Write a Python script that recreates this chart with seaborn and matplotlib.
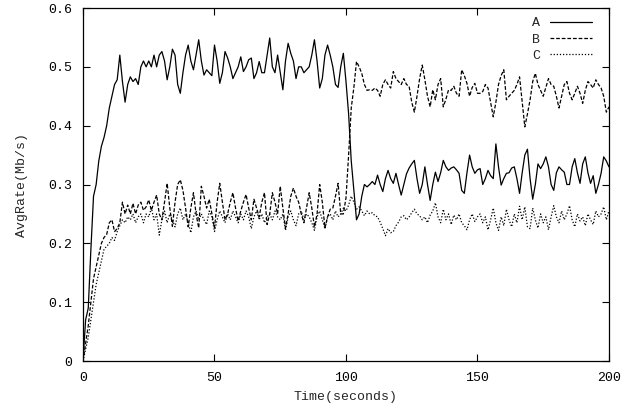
import numpy as np
import pandas as pd
import matplotlib
matplotlib.use("Agg")
import matplotlib.pyplot as plt
import seaborn as sns
from matplotlib.lines import Line2D

time_s = list(range(0, 201))

series_a = [
    0.00, 0.07, 0.09, 0.19, 0.28, 0.30, 0.34, 0.365, 0.38, 0.40,
    0.43, 0.45, 0.47, 0.478, 0.52, 0.475, 0.44, 0.47, 0.483, 0.475,
    0.48, 0.47, 0.50, 0.51, 0.50, 0.51, 0.50, 0.52, 0.50, 0.52,
    0.526, 0.51, 0.478, 0.50, 0.53, 0.52, 0.47, 0.455, 0.49, 0.52,
    0.537, 0.51, 0.495, 0.52, 0.546, 0.51, 0.486, 0.495, 0.49, 0.485,
    0.537, 0.51, 0.472, 0.49, 0.526, 0.515, 0.50, 0.48, 0.49, 0.50,
    0.517, 0.492, 0.50, 0.512, 0.515, 0.48, 0.49, 0.509, 0.49, 0.49,
    0.52, 0.549, 0.50, 0.49, 0.52, 0.49, 0.461, 0.51, 0.54, 0.523,
    0.51, 0.48, 0.50, 0.50, 0.49, 0.495, 0.50, 0.52, 0.546, 0.51,
    0.464, 0.48, 0.52, 0.537, 0.52, 0.50, 0.47, 0.465, 0.50, 0.523,
    0.475, 0.42, 0.34, 0.29, 0.24, 0.25, 0.28, 0.30, 0.296, 0.30,
    0.305, 0.30, 0.316, 0.30, 0.288, 0.31, 0.324, 0.31, 0.302, 0.319,
    0.30, 0.282, 0.30, 0.318, 0.328, 0.335, 0.341, 0.31, 0.285, 0.30,
    0.33, 0.30, 0.273, 0.30, 0.321, 0.305, 0.32, 0.341, 0.33, 0.324,
    0.328, 0.33, 0.325, 0.319, 0.29, 0.285, 0.32, 0.35, 0.33, 0.319,
    0.325, 0.327, 0.30, 0.31, 0.324, 0.315, 0.31, 0.369, 0.33, 0.299,
    0.31, 0.319, 0.32, 0.328, 0.33, 0.31, 0.285, 0.32, 0.35, 0.36,
    0.31, 0.275, 0.30, 0.335, 0.327, 0.335, 0.347, 0.33, 0.30, 0.29,
    0.32, 0.33, 0.325, 0.321, 0.30, 0.30, 0.33, 0.344, 0.32, 0.302,
    0.335, 0.347, 0.32, 0.302, 0.315, 0.285, 0.30, 0.319, 0.347, 0.34,
    0.33,
]

series_b = [
    0.00, 0.03, 0.06, 0.10, 0.14, 0.16, 0.18, 0.20, 0.21, 0.215,
    0.235, 0.24, 0.22, 0.225, 0.235, 0.27, 0.25, 0.265, 0.25, 0.268,
    0.25, 0.265, 0.27, 0.256, 0.262, 0.274, 0.256, 0.27, 0.282, 0.25,
    0.24, 0.27, 0.302, 0.26, 0.229, 0.27, 0.30, 0.308, 0.29, 0.26,
    0.228, 0.26, 0.286, 0.25, 0.226, 0.297, 0.28, 0.26, 0.275, 0.25,
    0.226, 0.27, 0.302, 0.27, 0.24, 0.25, 0.27, 0.286, 0.26, 0.238,
    0.255, 0.27, 0.283, 0.26, 0.24, 0.275, 0.26, 0.245, 0.27, 0.286,
    0.232, 0.25, 0.286, 0.27, 0.25, 0.297, 0.26, 0.226, 0.25, 0.28,
    0.294, 0.28, 0.27, 0.25, 0.235, 0.26, 0.286, 0.26, 0.228, 0.25,
    0.30, 0.27, 0.226, 0.245, 0.258, 0.26, 0.28, 0.302, 0.25, 0.25,
    0.277, 0.35, 0.43, 0.465, 0.509, 0.50, 0.489, 0.47, 0.46, 0.461,
    0.46, 0.464, 0.46, 0.45, 0.47, 0.478, 0.47, 0.464, 0.492, 0.48,
    0.475, 0.47, 0.48, 0.47, 0.467, 0.44, 0.423, 0.45, 0.48, 0.503,
    0.478, 0.45, 0.432, 0.461, 0.444, 0.47, 0.48, 0.432, 0.445, 0.461,
    0.46, 0.467, 0.455, 0.45, 0.495, 0.485, 0.472, 0.45, 0.465, 0.472,
    0.455, 0.455, 0.458, 0.47, 0.464, 0.44, 0.415, 0.44, 0.47, 0.485,
    0.495, 0.444, 0.45, 0.455, 0.46, 0.47, 0.483, 0.44, 0.398, 0.42,
    0.444, 0.475, 0.489, 0.47, 0.46, 0.45, 0.465, 0.48, 0.47, 0.467,
    0.45, 0.43, 0.45, 0.47, 0.475, 0.455, 0.444, 0.455, 0.467, 0.455,
    0.438, 0.46, 0.475, 0.47, 0.464, 0.478, 0.47, 0.464, 0.45, 0.423,
    0.432,
]

series_c = [
    0.00, 0.02, 0.04, 0.07, 0.10, 0.13, 0.15, 0.17, 0.19, 0.195,
    0.20, 0.21, 0.205, 0.22, 0.23, 0.24, 0.235, 0.245, 0.24, 0.25,
    0.235, 0.245, 0.25, 0.235, 0.25, 0.245, 0.26, 0.24, 0.25, 0.214,
    0.24, 0.255, 0.235, 0.25, 0.24, 0.228, 0.25, 0.26, 0.24, 0.25,
    0.235, 0.218, 0.245, 0.255, 0.24, 0.25, 0.24, 0.232, 0.255, 0.245,
    0.22, 0.24, 0.255, 0.245, 0.235, 0.25, 0.24, 0.255, 0.245, 0.235,
    0.25, 0.24, 0.255, 0.245, 0.225, 0.245, 0.255, 0.24, 0.25, 0.235,
    0.245, 0.25, 0.24, 0.255, 0.245, 0.24, 0.25, 0.222, 0.245, 0.255,
    0.24, 0.23, 0.25, 0.255, 0.24, 0.25, 0.245, 0.235, 0.222, 0.245,
    0.255, 0.24, 0.225, 0.245, 0.25, 0.24, 0.255, 0.245, 0.25, 0.26,
    0.255, 0.265, 0.28, 0.27, 0.258, 0.262, 0.255, 0.247, 0.255, 0.25,
    0.252, 0.247, 0.245, 0.236, 0.225, 0.213, 0.225, 0.218, 0.22, 0.23,
    0.236, 0.245, 0.247, 0.24, 0.245, 0.252, 0.258, 0.25, 0.247, 0.24,
    0.245, 0.235, 0.248, 0.255, 0.269, 0.245, 0.235, 0.258, 0.24, 0.25,
    0.232, 0.248, 0.24, 0.25, 0.235, 0.23, 0.223, 0.24, 0.25, 0.237,
    0.245, 0.25, 0.235, 0.245, 0.223, 0.24, 0.26, 0.235, 0.222, 0.245,
    0.23, 0.258, 0.24, 0.228, 0.25, 0.235, 0.263, 0.24, 0.262, 0.228,
    0.225, 0.26, 0.24, 0.226, 0.25, 0.235, 0.245, 0.223, 0.245, 0.264,
    0.245, 0.235, 0.255, 0.24, 0.25, 0.264, 0.24, 0.228, 0.25, 0.238,
    0.245, 0.23, 0.25, 0.24, 0.232, 0.255, 0.245, 0.25, 0.262, 0.24,
    0.255,
]

series_names = ["A", "B", "C"]
x_ticks = [0, 50, 100, 150, 200]
y_ticks = [0, 0.1, 0.2, 0.3, 0.4, 0.5, 0.6]
y_tick_labels = ["0", "0.1", "0.2", "0.3", "0.4", "0.5", "0.6"]

df = pd.concat([
    pd.DataFrame({"t": time_s, "v": vals, "series": name})
    for name, vals in zip(series_names, [series_a, series_b, series_c])
], ignore_index=True)

sns.set_style("ticks")
mono = ["Liberation Mono", "DejaVu Sans Mono"]
plt.rcParams["font.family"] = mono
FS = 9.5

fig = plt.figure(figsize=(6.36, 4.15), dpi=100)
ax = fig.add_axes([0.1305, 0.1301, 0.827, 0.8506])

dash_map = {"A": "", "B": (3, 1.5), "C": (1, 1.5)}
sns.lineplot(data=df, x="t", y="v", style="series", dashes=dash_map,
             color="black", linewidth=0.9, estimator=None, ax=ax,
             legend=False, sort=False)

ax.set_xlim(0, 200)
ax.set_ylim(0, 0.6)
ax.set_xticks(x_ticks)
ax.set_xticklabels([str(x) for x in x_ticks])
ax.set_yticks(y_ticks)
ax.set_yticklabels(y_tick_labels)
ax.tick_params(direction="in", length=5, width=0.8, top=True, right=True,
               labelsize=FS, colors="black", pad=8)
for s in ax.spines.values():
    s.set_visible(True)
    s.set_linewidth(0.9)
    s.set_color("black")

ax.set_xlabel("Time(seconds)", fontsize=FS, labelpad=5)
ax.set_ylabel("AvgRate(Mb/s)", fontsize=FS, labelpad=14)

handles = [
    Line2D([], [], color="black", lw=0.9, linestyle="-"),
    Line2D([], [], color="black", lw=0.9, dashes=(3, 1.5)),
    Line2D([], [], color="black", lw=0.9, dashes=(1, 1.5)),
]
ax.legend(handles, series_names, loc="upper right", frameon=False,
          markerfirst=False, handlelength=3.2, fontsize=FS,
          labelspacing=0.3, handletextpad=0.7, borderaxespad=0.3,
          bbox_to_anchor=(0.985, 1.0))

fig.savefig("out.png", dpi=100)
